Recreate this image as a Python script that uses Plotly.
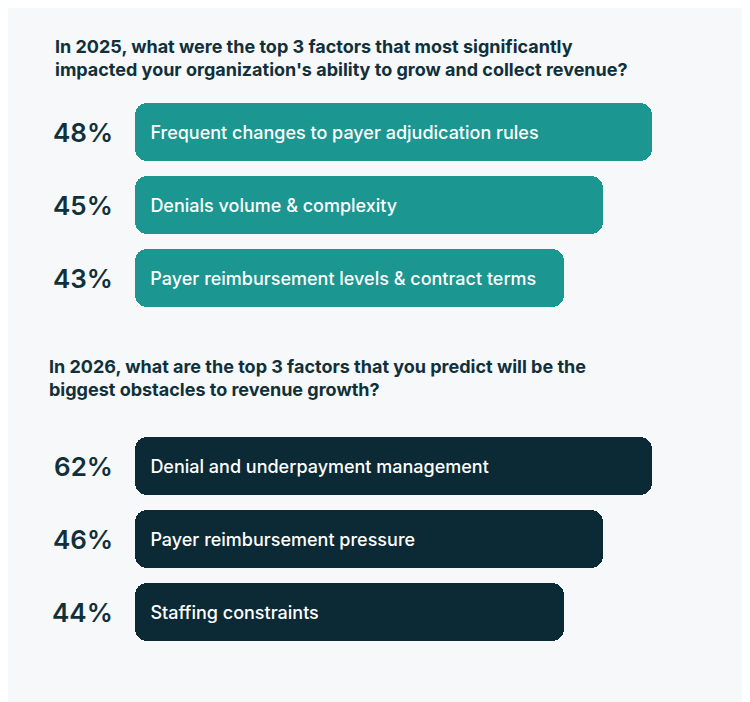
import plotly.graph_objects as go

title_2025 = "In 2025, what were the top 3 factors that most significantly<br>impacted your organization's ability to grow and collect revenue?"
title_2026 = "In 2026, what are the top 3 factors that you predict will be the<br>biggest obstacles to revenue growth?"
labels_2025 = ["Frequent changes to payer adjudication rules", "Denials volume & complexity",
               "Payer reimbursement levels & contract terms"]
values_2025 = [48, 45, 43]
labels_2026 = ["Denial and underpayment management", "Payer reimbursement pressure", "Staffing constraints"]
values_2026 = [62, 46, 44]
# decorative bar lengths (the source does not scale bars to values)
bar_length = [517, 468, 429]

teal = "#1b9690"
dark = "#0c2a35"
txt = "#10303a"
font = "Inter, Roboto, sans-serif"
off = 8  # page body margin

fig = go.Figure()
annotations = []
groups = [(labels_2025, values_2025, teal, 132, title_2025, 58, 53),
          (labels_2026, values_2026, dark, 466, title_2026, 378, 47)]
for labels, values, color, top, title, ty, tx in groups:
    ys = [top + i * 73 for i in range(len(labels))]
    fig.add_trace(go.Bar(
        orientation="h", y=ys, x=bar_length, base=135, width=58,
        marker=dict(color=color, cornerradius=12, line_width=0),
        text=["  " + l for l in labels], textposition="inside", insidetextanchor="start",
        textangle=0,
        textfont=dict(color="white", size=18, family=font, weight=500), hoverinfo="skip",
        cliponaxis=False, showlegend=False))
    for y, v in zip(ys, values):
        annotations.append(dict(x=115, y=y, xref="x", yref="y", text=f"{v}%", showarrow=False,
                                xanchor="right", font=dict(size=26, color=txt, family=font, weight=600)))
    annotations.append(dict(x=tx, y=ty, xref="x", yref="y", text=f"<b>{title}</b>",
                            showarrow=False, xanchor="left", yanchor="middle", align="left",
                            font=dict(size=18, color=txt, family=font)))

fig.update_layout(width=750, height=702, margin=dict(l=0, r=0, t=0, b=0),
                  paper_bgcolor="#f7f8fa", plot_bgcolor="#f7f8fa",
                  annotations=annotations, bargap=0,
                  xaxis=dict(range=[off, 750 + off], visible=False),
                  yaxis=dict(range=[702 + off, off], visible=False))
fig.write_html("out.html")
